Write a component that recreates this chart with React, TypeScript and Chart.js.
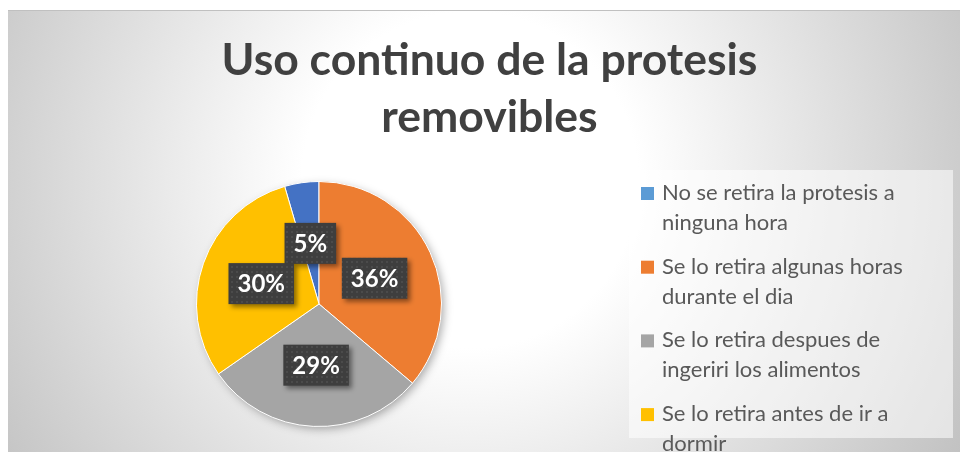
import React, { useEffect, useRef } from "react";
import { Chart, registerables } from "chart.js";

Chart.register(...registerables);

const TITLE_LINES = ["Uso continuo de la protesis", "removibles"];
const CATEGORIES = [
  ["No se retira la protesis a", "ninguna hora"],
  ["Se lo retira algunas horas", "durante el dia"],
  ["Se lo retira despues de", "ingeriri los alimentos"],
  ["Se lo retira antes de ir a", "dormir"],
];
const VALUES = [4.5, 36, 29, 30];
const COLORS = ["#4472C4", "#ED7D31", "#A5A5A5", "#FFC000"];

const TOTAL = VALUES.reduce((a, b) => a + b, 0);
const PERCENT_LABELS = VALUES.map((v) => Math.round((v / TOTAL) * 100) + "%");

const FONT = "Lato, 'Open Sans', sans-serif";

function makePattern(ctx: CanvasRenderingContext2D) {
  const c = document.createElement("canvas");
  c.width = 5;
  c.height = 5;
  const p = c.getContext("2d")!;
  p.fillStyle = "#3e3e3e";
  p.fillRect(0, 0, 5, 5);
  p.fillStyle = "#4b4b4b";
  p.fillRect(1, 1, 2, 2);
  return ctx.createPattern(c, "repeat")!;
}

const backgroundPlugin = {
  id: "bgPlugin",
  beforeDraw(chart: any) {
    const { ctx, width, height } = chart;
    ctx.save();
    ctx.fillStyle = "#ffffff";
    ctx.fillRect(0, 0, width, height);
    const g = ctx.createRadialGradient(470, 180, 0, 470, 180, 560);
    g.addColorStop(0, "#ffffff");
    g.addColorStop(0.3, "#ffffff");
    g.addColorStop(1, "#c2c2c2");
    ctx.fillStyle = g;
    ctx.fillRect(8, 10, width - 8, height - 10);
    ctx.fillStyle = "#c0c0c0";
    ctx.fillRect(8, 10, width - 8, 1);
    ctx.restore();
  },
};

const pieShadowPlugin = {
  id: "pieShadow",
  beforeDatasetsDraw(chart: any) {
    const meta = chart.getDatasetMeta(0);
    const arc = meta.data[0];
    if (!arc) return;
    const { ctx } = chart;
    ctx.save();
    ctx.shadowColor = "rgba(0,0,0,0.35)";
    ctx.shadowBlur = 10;
    ctx.shadowOffsetX = 3;
    ctx.shadowOffsetY = 3;
    ctx.fillStyle = "#9a9a9a";
    ctx.beginPath();
    ctx.arc(arc.x, arc.y, arc.outerRadius - 1, 0, Math.PI * 2);
    ctx.fill();
    ctx.restore();
  },
};

const decorPlugin = {
  id: "decor",
  afterDraw(chart: any) {
    const { ctx } = chart;
    ctx.save();
    // Title
    ctx.fillStyle = "#404040";
    ctx.font = `bold 44.5px ${FONT}`;
    ctx.textAlign = "center";
    ctx.textBaseline = "alphabetic";
    ctx.fillText(TITLE_LINES[0], 489.5, 75);
    ctx.fillText(TITLE_LINES[1], 489.5, 132);

    // Legend box
    ctx.fillStyle = "rgba(255,255,255,0.55)";
    ctx.fillRect(629, 170, 324, 268);
    const labels: string[][] = chart.data.labels;
    const colors: string[] = chart.data.datasets[0].backgroundColor;
    ctx.textAlign = "left";
    ctx.font = `22px ${FONT}`;
    labels.forEach((lines, i) => {
      const top = 187 + i * 73.7;
      ctx.fillStyle = i === 0 ? "#5B9BD5" : colors[i];
      ctx.fillRect(641, top, 13, 13);
      ctx.fillStyle = "#595959";
      lines.forEach((ln, j) => {
        ctx.fillText(ln, 662, top + 13 + j * 30);
      });
    });

    // Data labels
    const meta = chart.getDatasetMeta(0);
    const pattern = makePattern(ctx);
    ctx.font = `bold 24px ${FONT}`;
    meta.data.forEach((arc: any, i: number) => {
      const pos = arc.tooltipPosition();
      const text = PERCENT_LABELS[i];
      const tw = ctx.measureText(text).width;
      const w = tw + 18;
      const h = 41;
      const x0 = pos.x - w / 2;
      const y0 = pos.y - h / 2;
      ctx.save();
      ctx.shadowColor = "rgba(0,0,0,0.45)";
      ctx.shadowBlur = 5;
      ctx.shadowOffsetX = 3;
      ctx.shadowOffsetY = 3;
      ctx.fillStyle = pattern;
      ctx.fillRect(x0, y0, w, h);
      ctx.restore();
      ctx.fillStyle = "#ffffff";
      ctx.textAlign = "center";
      ctx.textBaseline = "middle";
      ctx.fillText(text, pos.x, pos.y + 1);
    });
    ctx.restore();
  },
};

export default function App() {
  const ref = useRef<HTMLCanvasElement>(null);
  useEffect(() => {
    const chart = new Chart(ref.current!, {
      type: "pie",
      data: {
        labels: CATEGORIES as any,
        datasets: [
          {
            data: VALUES,
            backgroundColor: COLORS,
            borderColor: "#ffffff",
            borderWidth: 1,
          },
        ],
      },
      options: {
        responsive: false,
        animation: false,
        devicePixelRatio: 1,
        rotation: -(VALUES[0] / TOTAL) * 360,
        layout: { padding: { left: 196, right: 518, top: 181, bottom: 25 } },
        plugins: {
          legend: { display: false },
          title: { display: false },
          tooltip: { enabled: false },
        },
      },
      plugins: [backgroundPlugin, pieShadowPlugin, decorPlugin],
    });
    return () => chart.destroy();
  }, []);
  return (
    <div style={{ position: "absolute", left: 0, top: 0, width: 960, height: 452 }}>
      <canvas ref={ref} width={960} height={452} style={{ display: "block", width: 960, height: 452 }} />
    </div>
  );
}
